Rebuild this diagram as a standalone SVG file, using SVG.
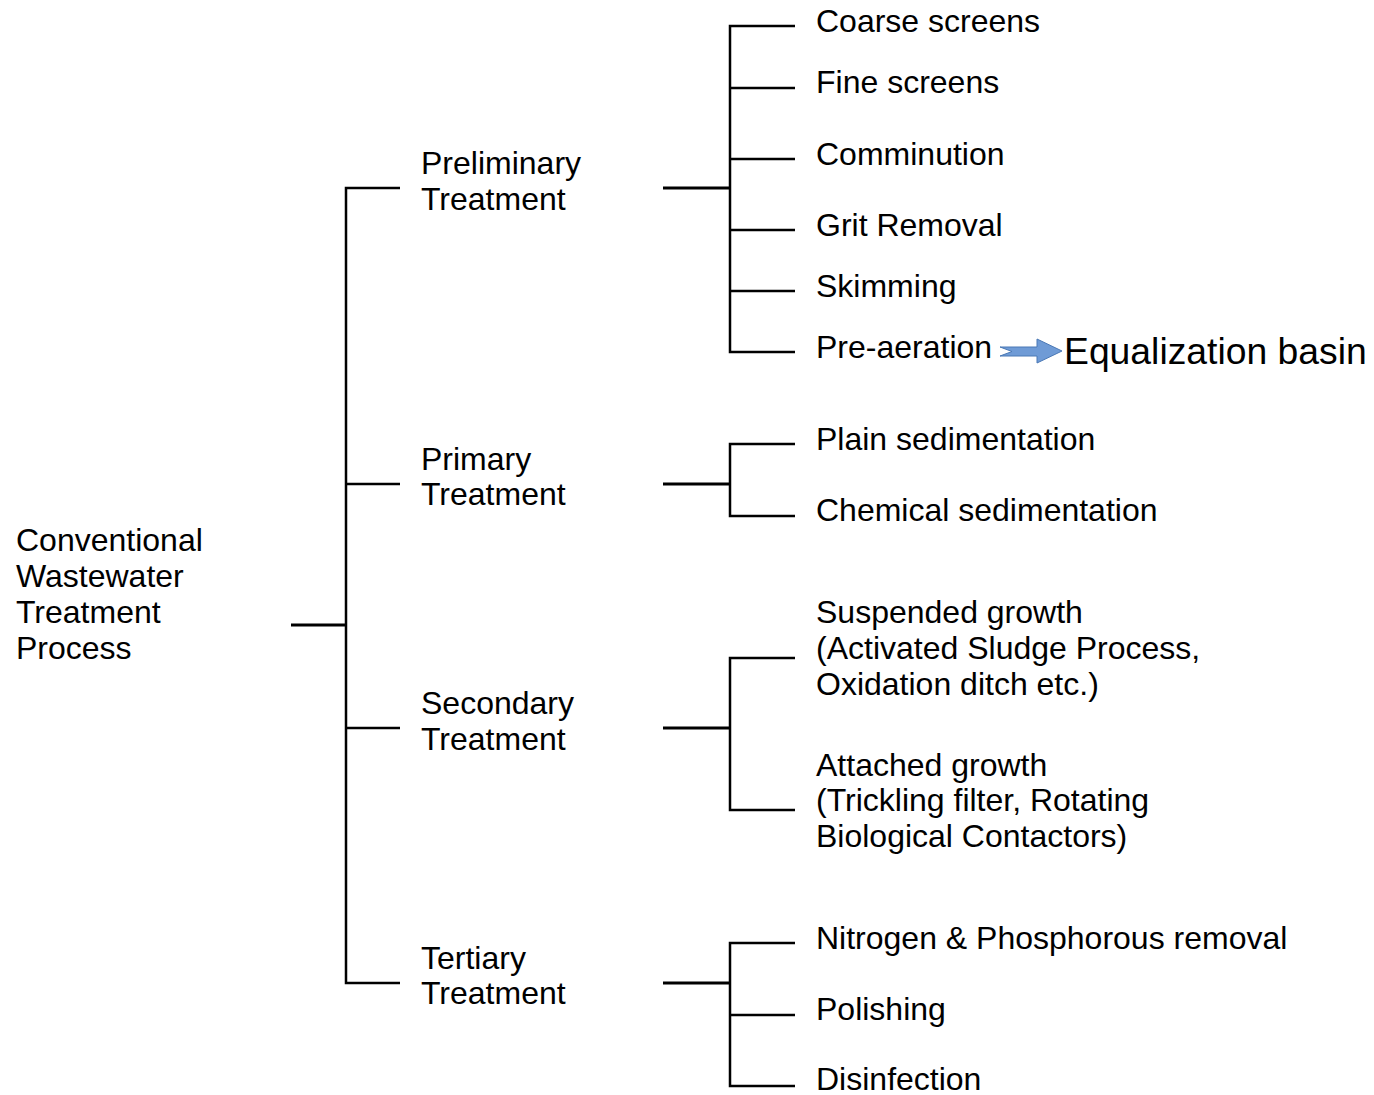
<svg xmlns="http://www.w3.org/2000/svg" width="1374" height="1095" viewBox="0 0 1374 1095">
<style>
text{font-family:"Liberation Sans",Arial,sans-serif;font-size:32px;fill:#000}
.big{font-size:37.3px}
.ln{stroke:#000;stroke-width:2.5;fill:none}
.stem{stroke:#000;stroke-width:3;fill:none}
</style>
<rect width="1374" height="1095" fill="#fff"/>
<g id="connectors">
<path class="stem" d="M291 625H346"/>
<path class="ln" d="M400 188H346V983H400M346 484H400M346 728H400"/>
<path class="stem" d="M663 188H730"/>
<path class="ln" d="M795 26H730V352H795M730 88H795M730 159H795M730 230H795M730 291H795"/>
<path class="stem" d="M663 484H730"/>
<path class="ln" d="M795 444H730V516H795"/>
<path class="stem" d="M663 728H730"/>
<path class="ln" d="M795 658H730V810H795"/>
<path class="stem" d="M663 983H730"/>
<path class="ln" d="M795 943H730V1086H795M730 1015H795"/>
<path d="M1000 347H1037V339L1062 351L1037 363V356H1000L1012 351.5Z" fill="#6f9bd6" stroke="#4a78b5" stroke-width="1"/>
</g>
<g id="root"><text x="16" y="551">Conventional</text><text x="16" y="587">Wastewater</text><text x="16" y="623">Treatment</text><text x="16" y="659">Process</text></g>
<g id="preliminary"><text x="421" y="174">Preliminary</text><text x="421" y="210">Treatment</text></g>
<g id="primary"><text x="421" y="470">Primary</text><text x="421" y="505">Treatment</text></g>
<g id="secondary"><text x="421" y="714">Secondary</text><text x="421" y="750">Treatment</text></g>
<g id="tertiary"><text x="421" y="969">Tertiary</text><text x="421" y="1004">Treatment</text></g>
<g id="coarse"><text x="816" y="32">Coarse screens</text></g>
<g id="fine"><text x="816" y="93">Fine screens</text></g>
<g id="comminution"><text x="816" y="165">Comminution</text></g>
<g id="grit"><text x="816" y="236">Grit Removal</text></g>
<g id="skimming"><text x="816" y="297">Skimming</text></g>
<g id="preaeration"><text x="816" y="358">Pre-aeration</text></g>
<g id="equalization"><text class="big" x="1064" y="364">Equalization basin</text></g>
<g id="plain"><text x="816" y="450">Plain sedimentation</text></g>
<g id="chemical"><text x="816" y="521">Chemical sedimentation</text></g>
<g id="suspended"><text x="816" y="623">Suspended growth</text><text x="816" y="659">(Activated Sludge Process,</text><text x="816" y="695">Oxidation ditch etc.)</text></g>
<g id="attached"><text x="816" y="776">Attached growth</text><text x="816" y="811">(Trickling filter, Rotating</text><text x="816" y="847">Biological Contactors)</text></g>
<g id="nitrogen"><text x="816" y="949">Nitrogen &amp; Phosphorous removal</text></g>
<g id="polishing"><text x="816" y="1020">Polishing</text></g>
<g id="disinfection"><text x="816" y="1090">Disinfection</text></g>
</svg>
